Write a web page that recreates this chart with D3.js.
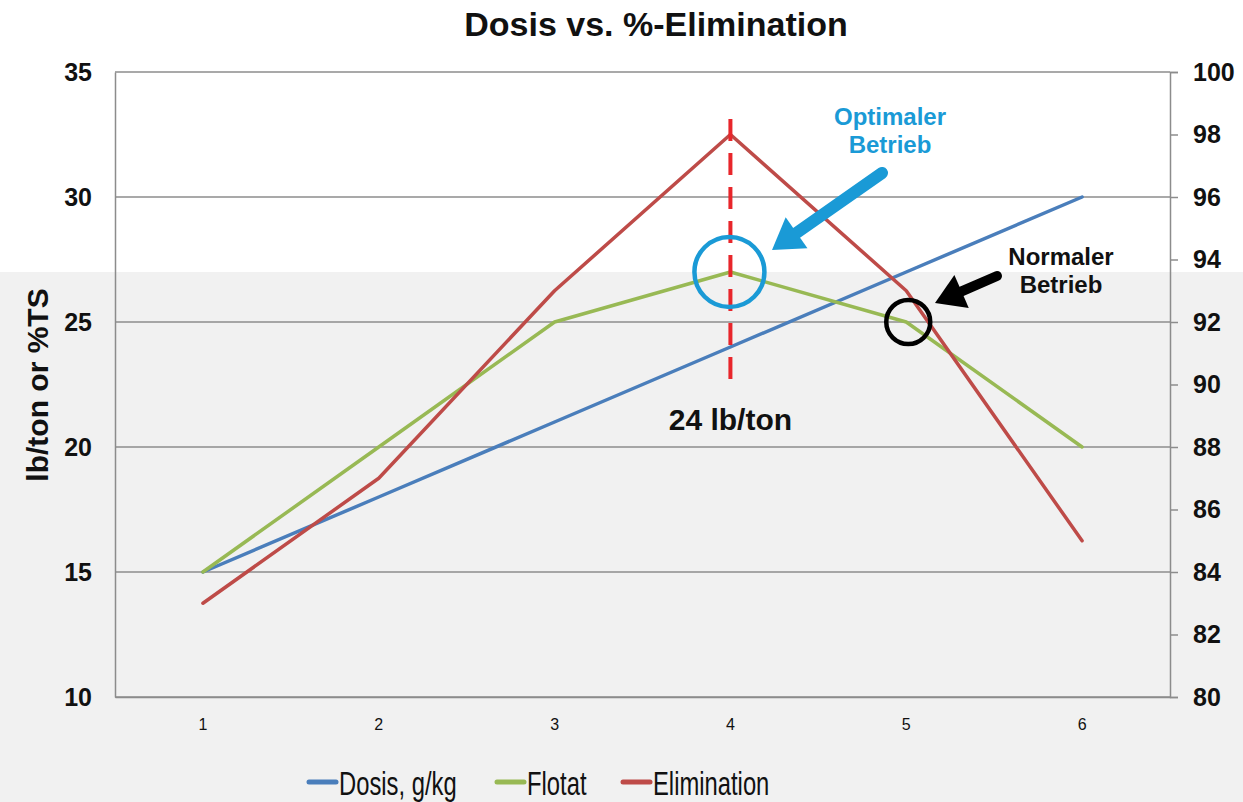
<!DOCTYPE html>
<html>
<head>
<meta charset="utf-8">
<script src="https://cdn.jsdelivr.net/npm/d3@7"></script>
<style>
  body { margin: 0; background: #fff; }
  svg { display: block; font-family: Arial, "Liberation Sans", sans-serif; }
</style>
</head>
<body>
<svg id="chart" width="1243" height="802"></svg>
<script>
"use strict";

// data
const categories = ["1", "2", "3", "4", "5", "6"];
const dosis = [15, 18, 21, 24, 27, 30];          // left axis
const flotat = [15, 20, 25, 27, 25, 20];         // left axis
const elimination = [83, 87, 93, 98, 93, 85];    // right axis
const leftTicks = [10, 15, 20, 25, 30, 35];
const rightTicks = [80, 82, 84, 86, 88, 90, 92, 94, 96, 98, 100];

const series = [
    { name: "Dosis, g/kg", values: dosis, axis: "left", color: "#4a7ebb" },
    { name: "Flotat", values: flotat, axis: "left", color: "#98b954" },
    { name: "Elimination", values: elimination, axis: "right", color: "#be4b48" }
];

const width = 1243, height = 802;
const plot = { left: 115, right: 1170, top: 72, bottom: 697 };

const svg = d3.select("#chart");

// background: lower part of the picture is light grey
svg.append("rect").attr("x", 0).attr("y", 0).attr("width", width).attr("height", height).attr("fill", "#ffffff");
svg.append("rect").attr("x", 0).attr("y", 272).attr("width", width).attr("height", height - 272).attr("fill", "#f1f1f1");

const x = d3.scaleBand().domain(categories).range([plot.left, plot.right]);
const yL = d3.scaleLinear().domain([10, 35]).range([plot.bottom, plot.top]);
const yR = d3.scaleLinear().domain([80, 100]).range([plot.bottom, plot.top]);
const cx = d => x(d) + x.bandwidth() / 2;

// gridlines
svg.append("g")
    .selectAll("line")
    .data(leftTicks)
    .enter().append("line")
    .attr("x1", plot.left).attr("x2", plot.right)
    .attr("y1", d => yL(d)).attr("y2", d => yL(d))
    .attr("stroke", "#8c8c8c").attr("stroke-width", 1.5);

// left axis
const leftAxis = svg.append("g")
    .attr("transform", `translate(${plot.left},0)`)
    .call(d3.axisLeft(yL).tickValues(leftTicks).tickSize(0).tickPadding(23));
leftAxis.attr("font-family", null);
leftAxis.select(".domain").attr("stroke", "#8c8c8c").attr("stroke-width", 1.5);
leftAxis.selectAll("text")
    .attr("font-size", 25).attr("font-weight", "bold").attr("fill", "#111");

// right axis
const rightAxis = svg.append("g")
    .attr("transform", `translate(${plot.right},0)`)
    .call(d3.axisRight(yR).tickValues(rightTicks).tickSize(8).tickPadding(15));
rightAxis.attr("font-family", null);
rightAxis.select(".domain").attr("stroke", "#8c8c8c").attr("stroke-width", 1.5);
rightAxis.selectAll("line").attr("stroke", "#8c8c8c").attr("stroke-width", 1.5);
rightAxis.selectAll("text")
    .attr("font-size", 25).attr("font-weight", "bold").attr("fill", "#111");

// bottom axis
const bottomAxis = svg.append("g")
    .attr("transform", `translate(0,${plot.bottom})`)
    .call(d3.axisBottom(x).tickSize(0).tickPadding(22));
bottomAxis.attr("font-family", null);
bottomAxis.select(".domain").attr("stroke", "#8c8c8c").attr("stroke-width", 1.5);
bottomAxis.selectAll("text").attr("font-size", 16).attr("fill", "#111");

// y axis title
svg.append("text")
    .attr("transform", `translate(48,385) rotate(-90)`)
    .attr("text-anchor", "middle")
    .attr("font-size", 30).attr("font-weight", "bold").attr("fill", "#111")
    .text("lb/ton or %TS");

// title
svg.append("text")
    .attr("x", 656).attr("y", 36)
    .attr("text-anchor", "middle")
    .attr("font-size", 34).attr("font-weight", "bold").attr("fill", "#111")
    .text("Dosis vs. %-Elimination");

// series lines
series.forEach(s => {
    const yScale = s.axis === "left" ? yL : yR;
    const line = d3.line()
        .x((d, i) => cx(categories[i]))
        .y(d => yScale(d));
    svg.append("path")
        .datum(s.values)
        .attr("fill", "none")
        .attr("stroke", s.color)
        .attr("stroke-width", 3.5)
        .attr("stroke-linecap", "round")
        .attr("stroke-linejoin", "round")
        .attr("d", line);
});

// red dashed marker at category 4
svg.append("line")
    .attr("x1", cx("4")).attr("x2", cx("4"))
    .attr("y1", 119).attr("y2", 383)
    .attr("stroke", "#e8262b").attr("stroke-width", 4)
    .attr("stroke-dasharray", "22,12");

svg.append("text")
    .attr("x", cx("4")).attr("y", 430)
    .attr("text-anchor", "middle")
    .attr("font-size", 30).attr("font-weight", "bold").attr("fill", "#111")
    .text("24 lb/ton");

// optimal circle
svg.append("circle")
    .attr("cx", cx("4") - 1).attr("cy", yL(27)).attr("r", 35)
    .attr("fill", "none").attr("stroke", "#1a9ad6").attr("stroke-width", 4.5);

// normal circle
svg.append("circle")
    .attr("cx", cx("5") + 2).attr("cy", yL(25)).attr("r", 22)
    .attr("fill", "none").attr("stroke", "#000").attr("stroke-width", 4.5);

// arrows
function arrow(x1, y1, x2, y2, color, w, headL, headW) {
    const ang = Math.atan2(y2 - y1, x2 - x1);
    const bx = x2 - headL * Math.cos(ang), by = y2 - headL * Math.sin(ang);
    svg.append("line")
        .attr("x1", x1).attr("y1", y1).attr("x2", bx).attr("y2", by)
        .attr("stroke", color).attr("stroke-width", w).attr("stroke-linecap", "round");
    const px = -Math.sin(ang), py = Math.cos(ang);
    svg.append("path")
        .attr("d", `M${x2},${y2} L${bx + px * headW},${by + py * headW} L${bx - px * headW},${by - py * headW} Z`)
        .attr("fill", color);
}
arrow(882, 173, 772, 250, "#1a9ad6", 12, 30, 19);
arrow(997, 276, 935, 303, "#000", 10, 29, 18);

// annotations
svg.append("text")
    .attr("text-anchor", "middle").attr("font-size", 24).attr("font-weight", "bold").attr("fill", "#1a9ad6")
    .selectAll("tspan")
    .data(["Optimaler", "Betrieb"])
    .enter().append("tspan")
    .attr("x", 890).attr("y", (d, i) => 125 + i * 28)
    .text(d => d);

svg.append("text")
    .attr("text-anchor", "middle").attr("font-size", 24).attr("font-weight", "bold").attr("fill", "#111")
    .selectAll("tspan")
    .data(["Normaler", "Betrieb"])
    .enter().append("tspan")
    .attr("x", 1061).attr("y", (d, i) => 265 + i * 28)
    .text(d => d);

// legend (narrow type, like the original)
const legendX = [309, 497, 623];
const legend = svg.append("g");
series.forEach((s, i) => {
    const g = legend.append("g").attr("transform", `translate(${legendX[i]},782)`);
    g.append("line")
        .attr("x1", 0).attr("x2", 27).attr("y1", 0).attr("y2", 0)
        .attr("stroke", s.color).attr("stroke-width", 5).attr("stroke-linecap", "round");
    g.append("text")
        .attr("transform", "translate(30,13) scale(0.7,1)")
        .attr("font-size", 34).attr("fill", "#111")
        .text(s.name);
});
</script>
</body>
</html>
